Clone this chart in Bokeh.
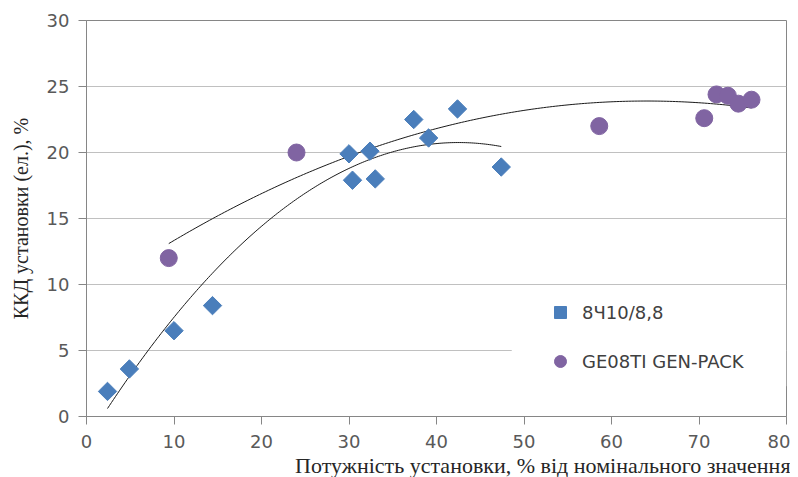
import numpy as np
from bokeh.plotting import figure
from bokeh.models import (Legend, LegendItem, Range1d, FixedTicker, Title,
                          BoxAnnotation, ColumnDataSource)
from bokeh.embed import file_html
from bokeh.resources import INLINE

# ---- data ----
series_a_name = "8Ч10/8,8"
series_a_x = [2.4, 4.9, 10.0, 14.4, 30.0, 30.4, 32.4, 33.0, 37.4, 39.1, 42.4, 47.4]
series_a_y = [1.9, 3.6, 6.5, 8.4, 19.9, 17.9, 20.1, 18.0, 22.5, 21.1, 23.3, 18.9]

series_b_name = "GE08TI GEN-PACK"
series_b_x = [9.4, 24.0, 58.6, 70.6, 72.0, 73.3, 74.5, 76.0]
series_b_y = [12.0, 20.0, 22.0, 22.6, 24.4, 24.3, 23.7, 24.0]

# polynomial (2nd order) trend lines as drawn in the chart: a*x^2 + b*x + c
trend_a_coef = [-0.01253, 1.0651, -1.88]
trend_b_coef = [-0.003623, 0.46374, 9.06]

x_ticks = [0, 10, 20, 30, 40, 50, 60, 70, 80]
y_ticks = [0, 5, 10, 15, 20, 25, 30]

x_title = "Потужність установки, % від номінального значення"
y_title = "ККД установки (ел.), %"

# ---- figure ----
p = figure(width=790, height=477, output_backend="svg",
           toolbar_location=None, x_range=Range1d(0, 80), y_range=Range1d(0, 30),
           min_border_left=86, min_border_right=4, min_border_top=20,
           min_border_bottom=61)
p.background_fill_color = "white"
p.border_fill_color = "white"
p.outline_line_color = "#868686"
p.outline_line_width = 1

p.xgrid.grid_line_color = None
p.ygrid.grid_line_color = "#c0c0c0"
p.ygrid.grid_line_width = 1

for ax, ticks in ((p.xaxis[0], x_ticks), (p.yaxis[0], y_ticks)):
    ax.ticker = FixedTicker(ticks=ticks)
    ax.minor_tick_line_color = None
    ax.major_tick_in = 0
    ax.major_tick_out = 8
    ax.major_tick_line_color = "#868686"
    ax.axis_line_color = "#868686"
    ax.major_label_text_font = "DejaVu Sans"
    ax.major_label_text_font_size = "18px"
    ax.major_label_text_color = "#595959"
p.yaxis.major_label_standoff = 9
p.xaxis.major_label_standoff = 10

p.yaxis.axis_label = y_title
p.yaxis.axis_label_text_font = "Liberation Serif"
p.yaxis.axis_label_text_font_size = "20px"
p.yaxis.axis_label_text_font_style = "normal"
p.yaxis.axis_label_text_color = "#262626"
p.yaxis.axis_label_standoff = 12

xt = Title(text=x_title, align="right", text_font="Liberation Serif",
           text_font_size="22px", text_font_style="normal",
           text_color="#262626", offset=-4, standoff=0)
p.add_layout(xt, "below")

# white area behind the legend (hides the grid line there)
p.add_layout(BoxAnnotation(left=48.6, right=80, bottom=2.3, top=9.6,
                           fill_color="white", fill_alpha=1.0,
                           line_color=None, level="underlay"))

# ---- trend lines ----
def trend(coef, xs):
    xx = np.linspace(min(xs), max(xs), 200)
    return xx, np.polyval(coef, xx)

ta_x, ta_y = trend(trend_a_coef, series_a_x)
tb_x, tb_y = trend(trend_b_coef, series_b_x)
p.line(ta_x, ta_y, line_color="#1a1a1a", line_width=1)
p.line(tb_x, tb_y, line_color="#1a1a1a", line_width=1)

# ---- points ----
src_a = ColumnDataSource(dict(x=series_a_x, y=series_a_y))
src_b = ColumnDataSource(dict(x=series_b_x, y=series_b_y))
ra = p.scatter("x", "y", source=src_a, marker="square", angle=np.pi / 4,
               size=13, fill_color="#4a7ebb", line_color="#4a7ebb")
rb = p.scatter("x", "y", source=src_b, marker="circle", size=17,
               fill_color="#8064a2", line_color="#8064a2")

legend = Legend(items=[LegendItem(label=series_a_name, renderers=[ra]),
                       LegendItem(label=series_b_name, renderers=[rb])],
                location=(459, 40), orientation="vertical",
                background_fill_color="white", background_fill_alpha=1.0,
                border_line_color=None, padding=10, spacing=19,
                glyph_width=30, glyph_height=30, label_standoff=7,
                label_text_font="DejaVu Sans", label_text_font_size="18px",
                label_text_color="#404040", label_height=30)
p.add_layout(legend, "center")

open("out.html", "w").write(file_html(p, INLINE))
